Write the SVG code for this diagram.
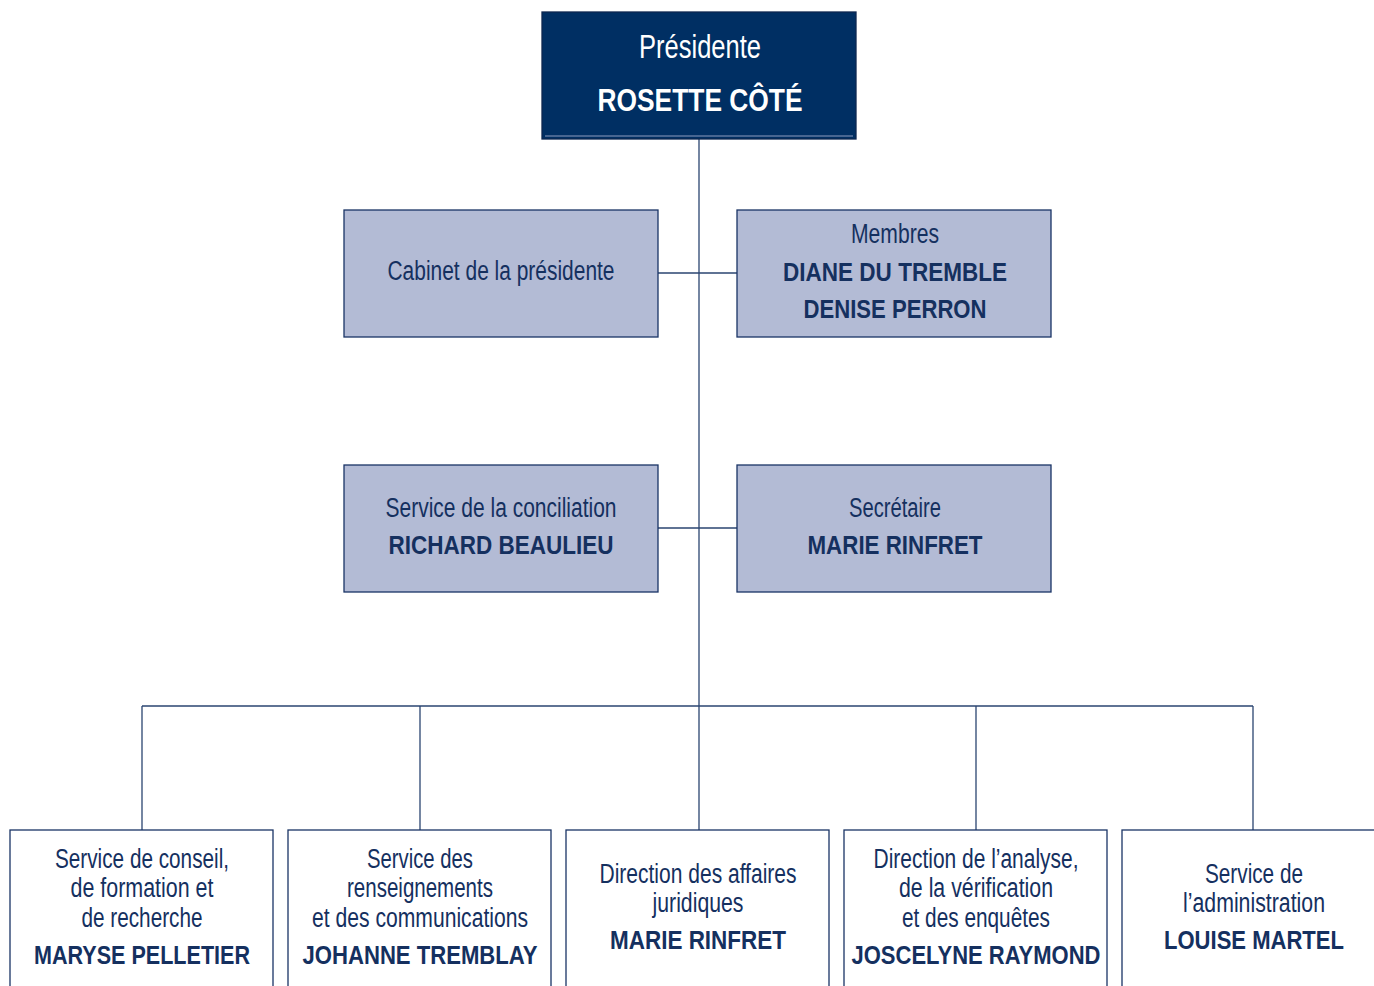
<svg xmlns="http://www.w3.org/2000/svg" width="1374" height="986" viewBox="0 0 1374 986">
<style>
text{font-family:"Liberation Sans Narrow","Liberation Sans",Arial,sans-serif;text-anchor:middle;fill:#15305f}
.r{font-size:27px}
.b{font-size:26px;font-weight:bold}
.w{fill:#ffffff}
.mid{fill:#b3bbd5;stroke:#1a3466;stroke-width:1.3}
.low{fill:#ffffff;stroke:#1a3466;stroke-width:1.3}
.c{stroke:#2a4470;stroke-width:1.3;fill:none}
</style>
<rect width="1374" height="986" fill="#ffffff"/>
<g id="connectors">
<line class="c" x1="699" y1="139" x2="699" y2="830"/>
<line class="c" x1="658" y1="273" x2="737" y2="273"/>
<line class="c" x1="658" y1="528" x2="737" y2="528"/>
<line class="c" x1="142" y1="706" x2="1253" y2="706"/>
<line class="c" x1="142" y1="706" x2="142" y2="830"/>
<line class="c" x1="420" y1="706" x2="420" y2="830"/>
<line class="c" x1="976" y1="706" x2="976" y2="830"/>
<line class="c" x1="1253" y1="706" x2="1253" y2="830"/>
</g>
<g id="presidente">
<rect x="542" y="12" width="314" height="127" fill="#002f63" stroke="#0d2750" stroke-width="1.3"/>
<line x1="545" y1="136" x2="853" y2="136" stroke="#8d9cc0" stroke-width="1"/>
<text class="w" x="700" y="58" font-size="33" textLength="122" lengthAdjust="spacingAndGlyphs">Présidente</text>
<text class="w" x="700" y="111" font-size="31" font-weight="bold" textLength="205" lengthAdjust="spacingAndGlyphs">ROSETTE CÔTÉ</text>
</g>
<g id="cabinet">
<rect class="mid" x="344" y="210" width="314" height="127"/>
<text class="r" x="501" y="280" textLength="227" lengthAdjust="spacingAndGlyphs">Cabinet de la présidente</text>
</g>
<g id="membres">
<rect class="mid" x="737" y="210" width="314" height="127"/>
<text class="r" x="895" y="243" textLength="88" lengthAdjust="spacingAndGlyphs">Membres</text>
<text class="b" x="895" y="281" textLength="224" lengthAdjust="spacingAndGlyphs">DIANE DU TREMBLE</text>
<text class="b" x="895" y="318" textLength="183" lengthAdjust="spacingAndGlyphs">DENISE PERRON</text>
</g>
<g id="conciliation">
<rect class="mid" x="344" y="465" width="314" height="127"/>
<text class="r" x="501" y="517" textLength="231" lengthAdjust="spacingAndGlyphs">Service de la conciliation</text>
<text class="b" x="501" y="554" textLength="225" lengthAdjust="spacingAndGlyphs">RICHARD BEAULIEU</text>
</g>
<g id="secretaire">
<rect class="mid" x="737" y="465" width="314" height="127"/>
<text class="r" x="895" y="517" textLength="92" lengthAdjust="spacingAndGlyphs">Secrétaire</text>
<text class="b" x="895" y="554" textLength="175" lengthAdjust="spacingAndGlyphs">MARIE RINFRET</text>
</g>
<g id="conseil">
<rect class="low" x="10" y="830" width="263" height="170"/>
<text class="r" x="142" y="868" textLength="174" lengthAdjust="spacingAndGlyphs">Service de conseil,</text>
<text class="r" x="142" y="897" textLength="143" lengthAdjust="spacingAndGlyphs">de formation et</text>
<text class="r" x="142" y="927" textLength="121" lengthAdjust="spacingAndGlyphs">de recherche</text>
<text class="b" x="142" y="964" textLength="216" lengthAdjust="spacingAndGlyphs">MARYSE PELLETIER</text>
</g>
<g id="renseignements">
<rect class="low" x="288" y="830" width="263" height="170"/>
<text class="r" x="420" y="868" textLength="106" lengthAdjust="spacingAndGlyphs">Service des</text>
<text class="r" x="420" y="897" textLength="146" lengthAdjust="spacingAndGlyphs">renseignements</text>
<text class="r" x="420" y="927" textLength="216" lengthAdjust="spacingAndGlyphs">et des communications</text>
<text class="b" x="420" y="964" textLength="235" lengthAdjust="spacingAndGlyphs">JOHANNE TREMBLAY</text>
</g>
<g id="juridiques">
<rect class="low" x="566" y="830" width="263" height="170"/>
<text class="r" x="698" y="883" textLength="197" lengthAdjust="spacingAndGlyphs">Direction des affaires</text>
<text class="r" x="698" y="912" textLength="91" lengthAdjust="spacingAndGlyphs">juridiques</text>
<text class="b" x="698" y="949" textLength="176" lengthAdjust="spacingAndGlyphs">MARIE RINFRET</text>
</g>
<g id="analyse">
<rect class="low" x="844" y="830" width="263" height="170"/>
<text class="r" x="976" y="868" textLength="205" lengthAdjust="spacingAndGlyphs">Direction de l’analyse,</text>
<text class="r" x="976" y="897" textLength="154" lengthAdjust="spacingAndGlyphs">de la vérification</text>
<text class="r" x="976" y="927" textLength="148" lengthAdjust="spacingAndGlyphs">et des enquêtes</text>
<text class="b" x="976" y="964" textLength="249" lengthAdjust="spacingAndGlyphs">JOSCELYNE RAYMOND</text>
</g>
<g id="administration">
<rect class="low" x="1122" y="830" width="263" height="170"/>
<text class="r" x="1254" y="883" textLength="98" lengthAdjust="spacingAndGlyphs">Service de</text>
<text class="r" x="1254" y="912" textLength="142" lengthAdjust="spacingAndGlyphs">l’administration</text>
<text class="b" x="1254" y="949" textLength="180" lengthAdjust="spacingAndGlyphs">LOUISE MARTEL</text>
</g>
</svg>
